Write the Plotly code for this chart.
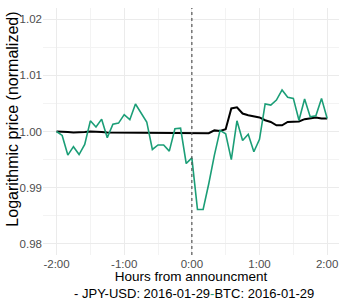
import plotly.graph_objects as go

minutes = [-120, -115, -110, -105, -100, -95, -90, -85, -80, -75, -70, -65,
           -60, -55, -50, -45, -40, -35, -30, -25, -20, -15, -10, -5,
           0, 5, 10, 15, 20, 25, 30, 35, 40, 45, 50, 55,
           60, 65, 70, 75, 80, 85, 90, 95, 100, 105, 110, 115, 120]

btc = [1.0000, 0.9993, 0.9958, 0.9973, 0.9959, 0.9977, 1.0019, 1.0008, 1.0022, 0.9989,
       1.0013, 1.0015, 1.0030, 1.0021, 1.0049, 1.0034, 1.0017, 0.9968, 0.9976, 0.9976,
       0.9965, 1.0005, 1.0006, 0.9943, 0.9953, 0.9861, 0.9861, 0.9907, 0.9958, 1.0002,
       0.9996, 0.9950, 1.0019, 0.9984, 0.9995, 0.9964, 0.9986, 1.0049, 1.0047, 1.0056,
       1.0074, 1.0061, 1.0059, 1.0020, 1.0058, 1.0026, 1.0028, 1.0059, 1.0023]

jpy = [1.0000, 1.0000, 0.9999, 0.9998, 0.9998, 0.9999, 1.0000, 1.0000, 0.9999, 0.9998,
       0.9998, 0.9997, 0.9997, 0.9998, 0.9998, 0.9998, 0.9998, 0.9998, 0.9997, 0.9997,
       0.9997, 0.9997, 0.9997, 0.9997, 0.9997, 0.9997, 0.9997, 0.9997, 1.0002, 1.0001,
       1.0004, 1.0041, 1.0043, 1.0032, 1.0029, 1.0027, 1.0025, 1.0020, 1.0017, 1.0011,
       1.0011, 1.0017, 1.0017, 1.0018, 1.0022, 1.0024, 1.0025, 1.0023, 1.0023]

x_tickvals = [-120, -60, 0, 60, 120]
x_ticktext = ["-2:00", "-1:00", "0:00", "1:00", "2:00"]
y_tickvals = [0.98, 0.99, 1.00, 1.01, 1.02]
y_ticktext = ["0.98", "0.99", "1.00", "1.01", "1.02"]

FONT = "Liberation Sans, Arial, sans-serif"
GREEN = "#1b9e77"

fig = go.Figure()
fig.add_trace(go.Scatter(x=minutes, y=jpy, mode="lines", name="JPY-USD: 2016-01-29",
                         line=dict(color="black", width=2), showlegend=False))
fig.add_trace(go.Scatter(x=minutes, y=btc, mode="lines", name="BTC: 2016-01-29",
                         line=dict(color=GREEN, width=1.6), showlegend=False))

fig.add_vline(x=0, line=dict(color="#555555", width=1.2, dash="dot"))

fig.update_layout(
    width=339, height=307,
    margin=dict(l=43, r=0, t=8, b=52),
    plot_bgcolor="white", paper_bgcolor="white",
    font=dict(family=FONT, color="black"),
    xaxis=dict(range=[-132, 130.5], tickvals=x_tickvals, ticktext=x_ticktext,
               automargin=False, ticklabeloverflow="allow",
               showgrid=True, gridcolor="#ebebeb", gridwidth=1, zeroline=False,
               showline=False, ticks="", tickfont=dict(size=11.5, color="#4d4d4d"),
               minor=dict(dtick=30, tick0=0, showgrid=True, gridcolor="#f3f3f3", gridwidth=1),
               title=dict(text="Hours from announcment", font=dict(size=13.5, color="black"),
                          standoff=2)),
    yaxis=dict(range=[0.978, 1.022], tickvals=y_tickvals, ticktext=y_ticktext,
               automargin=False, ticklabeloverflow="allow",
               showgrid=True, gridcolor="#ebebeb", gridwidth=1, zeroline=False,
               showline=False, ticks="", tickfont=dict(size=11.5, color="#4d4d4d"),
               minor=dict(dtick=0.005, tick0=0.98, showgrid=True, gridcolor="#f3f3f3", gridwidth=1)),
)

fig.add_annotation(text="Logarithmic price (normalized)", xref="paper", yref="paper",
                   x=-0.103, y=0.55, xanchor="center", yanchor="middle", textangle=-90,
                   showarrow=False, font=dict(size=16, color="black", family=FONT))

legend_text = ("<span style='color:black'>-</span> JPY-USD: 2016-01-29"
               "<span style='color:%s'>-</span>BTC: 2016-01-29" % GREEN)
fig.add_annotation(text=legend_text, xref="paper", yref="paper", x=0.51, y=-0.154,
                   xanchor="center", yanchor="middle", showarrow=False,
                   font=dict(size=13, color="black", family=FONT))

fig.write_html("out.html", config={"displayModeBar": False},
               post_script="document.body.style.margin='0';")
